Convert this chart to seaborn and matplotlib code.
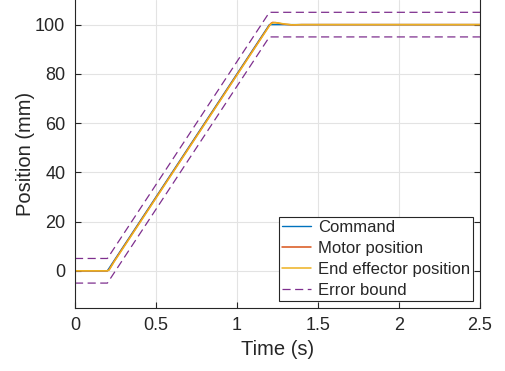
import matplotlib
matplotlib.use("Agg")
import matplotlib.pyplot as plt
import seaborn as sns

# command trajectory (s, mm)
cmd_t = [0.0, 0.2, 1.2, 2.5]
cmd_pos = [0.0, 0.0, 100.0, 100.0]

# motor position
motor_t = [0.0, 0.2, 0.21, 0.22, 0.24, 1.2, 1.21, 1.22, 1.24, 1.27, 1.3, 1.34, 1.4, 1.5, 2.5]
motor_pos = [0.0, 0.0, 0.4, 1.5, 3.7, 99.7, 100.5, 100.9, 100.8, 100.4, 100.1, 99.9, 100.0, 100.0, 100.0]

# end effector position
ee_t = [0.0, 0.2, 0.21, 0.22, 0.24, 1.2, 1.21, 1.22, 1.24, 1.27, 1.3, 1.34, 1.4, 1.5, 2.5]
ee_pos = [0.0, 0.0, 0.3, 1.3, 3.5, 99.5, 100.3, 100.7, 100.8, 100.5, 100.2, 99.9, 100.0, 100.0, 100.0]

# error bound (+/- 5 mm around command)
upper_pos = [5.0, 5.0, 105.0, 105.0]
lower_pos = [-5.0, -5.0, 95.0, 95.0]

sns.set_theme(style="white")
plt.rcParams['font.family'] = ['Liberation Sans', 'DejaVu Sans']

fig = plt.figure(figsize=(5.05, 3.71), dpi=100)
ax = fig.add_axes([0.1485, 0.1706, 0.802, 0.8294])

sns.lineplot(x=cmd_t, y=cmd_pos, ax=ax, color="#0072BD", lw=1.0, label="Command")
sns.lineplot(x=motor_t, y=motor_pos, ax=ax, color="#D95319", lw=1.1, label="Motor position")
sns.lineplot(x=ee_t, y=ee_pos, ax=ax, color="#EDB120", lw=1.1, label="End effector position")
sns.lineplot(x=cmd_t, y=upper_pos, ax=ax, color="#7E2F8E", lw=0.9, label="Error bound")
sns.lineplot(x=cmd_t, y=lower_pos, ax=ax, color="#7E2F8E", lw=0.9)
for ln in ax.lines[3:]:
    ln.set_dashes((6.5, 3.6))

ax.set_xlim(0, 2.5)
ax.set_ylim(-15, 110)
ax.set_xticks([0, 0.5, 1, 1.5, 2, 2.5])
ax.set_xticklabels(["0", "0.5", "1", "1.5", "2", "2.5"])
ax.set_yticks([0, 20, 40, 60, 80, 100])

ax.grid(True, color="#e3e3e3", lw=0.8)
ax.set_axisbelow(True)
for s in ax.spines.values():
    s.set_color("#262626")
    s.set_linewidth(0.8)
ax.spines["top"].set_visible(False)
ax.tick_params(direction="in", length=4, width=0.8, colors="#262626",
               labelsize=13, top=False, right=True, bottom=True, left=True, pad=7)

ax.set_xlabel("Time (s)", fontsize=14.5, color="#262626", labelpad=4)
ax.set_ylabel("Position (mm)", fontsize=14.5, color="#262626", labelpad=0)

leg = ax.legend(loc="lower right", fontsize=12, frameon=True, fancybox=False,
                handlelength=1.75, labelspacing=0.35, borderaxespad=0.4,
                borderpad=0.2, handletextpad=0.4)
leg.get_frame().set_edgecolor("#262626")
leg.get_frame().set_linewidth(0.8)
leg.get_frame().set_alpha(1.0)

fig.savefig("out.png", dpi=100)
